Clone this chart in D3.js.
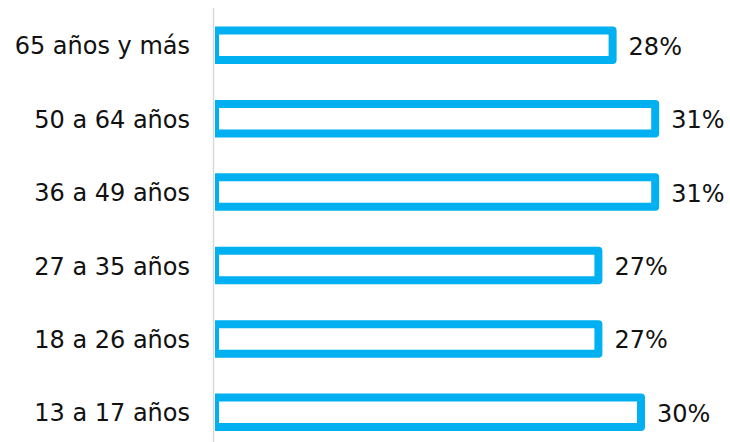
<!DOCTYPE html>
<html>
<head>
<meta charset="utf-8">
<script src="https://cdn.jsdelivr.net/npm/d3@7"></script>
<style>
  html, body { margin: 0; padding: 0; background: #fff; }
  svg { display: block; }
</style>
</head>
<body>
<svg id="chart" width="730" height="442"></svg>
<script>
const categories = ["65 años y más", "50 a 64 años", "36 a 49 años", "27 a 35 años", "18 a 26 años", "13 a 17 años"];
const values = [28, 31, 31, 27, 27, 30];
const valueLabels = ["28%", "31%", "31%", "27%", "27%", "30%"];

const svg = d3.select("#chart");
const x0 = 215;
const x = d3.scaleLinear().domain([0, 10]).range([x0, x0 + 142]);
const y = d3.scaleBand().domain(categories).range([8.6, 449]).paddingInner(0.5).paddingOuter(0.25);
const fontFamily = "'DejaVu Sans', Verdana, sans-serif";

svg.append("defs").append("clipPath").attr("id", "clip")
  .append("rect").attr("x", x0).attr("y", 0).attr("width", 730 - x0).attr("height", 442);

const barH = 29.5;
const g = svg.append("g").attr("clip-path", "url(#clip)");
g.selectAll("rect.bar").data(categories).join("rect")
  .attr("class", "bar")
  .attr("x", x(0))
  .attr("y", d => y(d) + y.bandwidth() / 2 - barH / 2)
  .attr("width", (d, i) => x(values[i]) - x(0))
  .attr("height", barH)
  .attr("fill", "#ffffff")
  .attr("stroke", "#00B0F0")
  .attr("stroke-width", 8)
  .attr("stroke-linejoin", "round");

// axis line
svg.append("line")
  .attr("x1", 213.5).attr("x2", 213.5)
  .attr("y1", 8).attr("y2", 442)
  .attr("stroke", "#d9d9d9").attr("stroke-width", 1.5);

// category labels
svg.selectAll("text.cat").data(categories).join("text")
  .attr("class", "cat")
  .attr("x", 190)
  .attr("y", d => y(d) + y.bandwidth() / 2 + 9)
  .attr("text-anchor", "end")
  .attr("font-family", fontFamily)
  .attr("font-size", 24)
  .attr("fill", "#111")
  .text(d => d);

// value labels
svg.selectAll("text.val").data(categories).join("text")
  .attr("class", "val")
  .attr("x", (d, i) => x(values[i]) + 16)
  .attr("y", d => y(d) + y.bandwidth() / 2 + 9.5)
  .attr("font-family", fontFamily)
  .attr("font-size", 24)
  .attr("fill", "#111")
  .text((d, i) => valueLabels[i]);
</script>
</body>
</html>
